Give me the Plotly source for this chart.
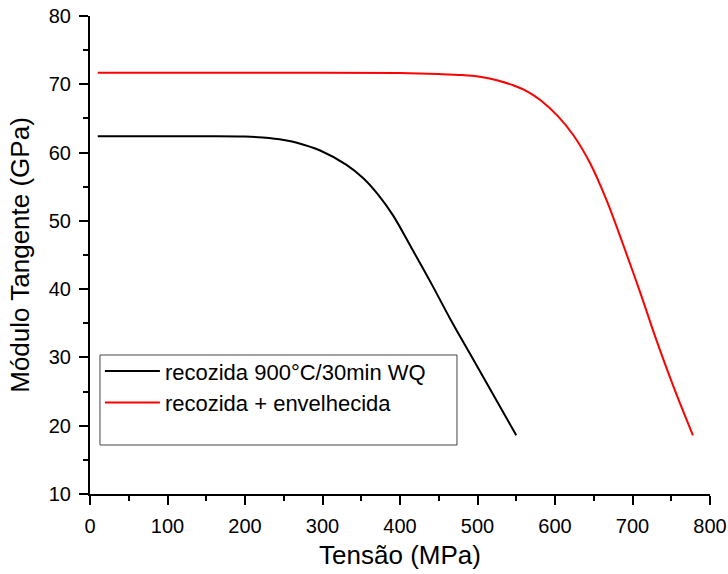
import plotly.graph_objects as go

# Data
tensao_recozida = [10, 100, 150, 200, 223, 250, 267, 297, 331, 353, 372, 391, 415, 441, 465, 490, 520, 550]
modulo_recozida = [62.4, 62.4, 62.4, 62.35, 62.2, 61.85, 61.45, 60.3, 58.2, 56.2, 53.8, 50.8, 46.0, 40.7, 35.6, 30.6, 24.6, 18.6]

tensao_envelhecida = [10, 300, 400, 450, 480, 503, 525, 546, 565, 581, 604, 624, 645, 667, 688, 710, 731, 753, 778]
modulo_envelhecida = [71.7, 71.7, 71.65, 71.5, 71.35, 71.1, 70.6, 69.85, 68.9, 67.7, 65.3, 62.5, 58.5, 52.9, 46.5, 39.5, 32.5, 25.7, 18.6]

nome_recozida = "recozida 900°C/30min WQ"
nome_envelhecida = "recozida + envelhecida"

FONT = "Arial, Liberation Sans, sans-serif"

fig = go.Figure()
fig.add_trace(go.Scatter(x=tensao_recozida, y=modulo_recozida, mode="lines",
                         name=nome_recozida,
                         line=dict(color="black", width=2, shape="spline", smoothing=1.0)))
fig.add_trace(go.Scatter(x=tensao_envelhecida, y=modulo_envelhecida, mode="lines",
                         name=nome_envelhecida,
                         line=dict(color="red", width=2, shape="spline", smoothing=1.0)))

axis_common = dict(showline=True, linecolor="black", linewidth=2, ticks="outside",
                   ticklen=9, tickwidth=1.5, tickcolor="black", showgrid=False,
                   zeroline=False, mirror=False, automargin=False, ticklabelstandoff=4,
                   tickfont=dict(family=FONT, size=20, color="black"))

fig.update_xaxes(range=[0, 800], dtick=100, tick0=0,
                 minor=dict(dtick=50, ticks="outside", ticklen=5, tickwidth=1.5, tickcolor="black"),
                 title=dict(text="Tensão (MPa)", font=dict(family=FONT, size=26, color="black"), standoff=10),
                 **axis_common)
fig.update_yaxes(range=[10, 80], dtick=10, tick0=10,
                 minor=dict(dtick=5, ticks="outside", ticklen=5, tickwidth=1.5, tickcolor="black"),
                 title=dict(text="Módulo Tangente (GPa)", font=dict(family=FONT, size=26, color="black"), standoff=12),
                 **axis_common)

# legend frame (the legend box of the reference is wider/taller than its entries)
fig.add_shape(type="rect", xref="paper", yref="paper",
              x0=0.0161, x1=0.5919, y0=0.1025, y1=0.2908,
              line=dict(color="#444", width=1), fillcolor="rgba(0,0,0,0)", layer="above")

fig.update_layout(
    width=728, height=574,
    margin=dict(l=90, r=18, t=16, b=80),
    paper_bgcolor="white", plot_bgcolor="white",
    font=dict(family=FONT, color="black"),
    legend=dict(x=0.016, y=0.301, xanchor="left", yanchor="top",
                borderwidth=0, bgcolor="rgba(0,0,0,0)",
                font=dict(family=FONT, size=22, color="black"),
                tracegroupgap=0, itemwidth=55),
    showlegend=True,
)

fig.write_html("out.html", config={"displayModeBar": False},
               post_script="document.body.style.margin='0';")
